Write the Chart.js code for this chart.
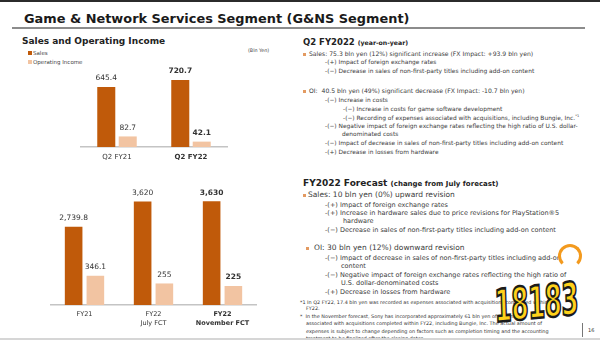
<!DOCTYPE html>
<html>
<head>
<meta charset="utf-8">
<script src="https://cdn.jsdelivr.net/npm/chart.js@4.4.0/dist/chart.umd.min.js"></script>
<style>
  body { margin: 0; background: #fff; }
  #slide { position: relative; width: 600px; height: 340px; overflow: hidden; font-family: 'DejaVu Sans', Verdana, sans-serif; color: #3a3a3a; }
  #slide div { position: absolute; white-space: nowrap; line-height: 1; }
  .topbar { left: 0; top: 0; width: 600px; height: 2px; background: #2b2b2b; }
  .title { left: 24px; top: 12.5px; font-size: 12.9px; font-weight: bold; color: #1a1a1a; }
  .rule { left: 12px; top: 27px; width: 573px; height: 1.5px; background: #8c8c8c; }
  .sub { left: 22px; top: 37px; font-size: 9px; font-weight: bold; color: #222; }
  .leg { font-size: 5.5px; color: #444; }
  .sq { width: 3.5px; height: 3.5px; }
  .h { font-weight: bold; color: #222; }
  .b { width: 3px; height: 3px; background: #e39a61; }
  .s1 { font-size: 5.9px; }
  .s2 { font-size: 6.5px; }
  .s2b { font-size: 7.5px; }
  .fn { font-size: 4.9px; color: #333; }
  canvas { position: absolute; }
  .wm { left: 494px; top: 284px; font-size: 45px; font-weight: 900; font-family: 'DejaVu Sans', sans-serif; color: #ffd21a; -webkit-text-stroke: 2.5px #1b1b1b; letter-spacing: -1px; transform-origin: left top; transform: scaleX(0.55) rotate(-3deg); }
  .sun { left: 558px; top: 244px; width: 24px; height: 24px; border-radius: 50%; border: 3px solid #f39a1e; box-sizing: border-box; border-bottom-color: transparent; }
</style>
</head>
<body>
<div id="slide">
  <div class="topbar"></div>
  <div class="title">Game &amp; Network Services Segment (G&amp;NS Segment)</div>
  <div class="rule"></div>

  <div class="sub">Sales and Operating Income</div>
  <div class="sq" style="left:28px;top:51px;background:#c05a0a"></div>
  <div class="leg" style="left:33px;top:50.5px">Sales</div>
  <div class="sq" style="left:28px;top:60px;background:#f2c4a2"></div>
  <div class="leg" style="left:33px;top:59.5px">Operating Income</div>
  <div class="leg" style="left:248px;top:48.5px;font-size:4.8px">(Bln Yen)</div>

  <canvas id="quarterChart" width="148" height="112" style="left:80px;top:55px"></canvas>
  <canvas id="yearChart" width="207" height="157" style="left:50px;top:180px"></canvas>

  <!-- Q2 FY2022 -->
  <div class="h" style="left:303px;top:38px;font-size:8.5px">Q2 FY2022 <span style="font-size:6.2px">(year-on-year)</span></div>
  <div class="b" style="left:303px;top:52.5px"></div>
  <div class="s1" style="left:309px;top:51px;font-size:6.1px">Sales: 75.3 bln yen (12%) significant increase (FX Impact: +93.9 bln yen)</div>
  <div class="s1" style="left:325px;top:60px">-(+) Impact of foreign exchange rates</div>
  <div class="s1" style="left:325px;top:69px">-(−) Decrease in sales of non-first-party titles including add-on content</div>
  <div class="b" style="left:303px;top:89.5px"></div>
  <div class="s1" style="left:309px;top:88px;font-size:6.1px">OI:&nbsp; 40.5 bln yen (49%) significant decrease (FX Impact: -10.7 bln yen)</div>
  <div class="s1" style="left:325px;top:98px">-(−) Increase in costs</div>
  <div class="s1" style="left:343px;top:107px">-(−) Increase in costs for game software development</div>
  <div class="s1" style="left:343px;top:115px">-(−) Recording of expenses associated with acquisitions, including Bungie, Inc.<sup style="font-size:3.5px">*1</sup></div>
  <div class="s1" style="left:325px;top:124px">-(−) Negative impact of foreign exchange rates reflecting the high ratio of U.S. dollar-</div>
  <div class="s1" style="left:342px;top:132px">denominated costs</div>
  <div class="s1" style="left:325px;top:141px">-(−) Impact of decrease in sales of non-first-party titles including add-on content</div>
  <div class="s1" style="left:325px;top:150px">-(+) Decrease in losses from hardware</div>

  <!-- FY2022 Forecast -->
  <div class="h" style="left:303px;top:179px;font-size:9px">FY2022 Forecast <span style="font-size:7px">(change from July forecast)</span></div>
  <div class="b" style="left:303px;top:193.5px"></div>
  <div class="s2b" style="left:308px;top:191px">Sales: 10 bln yen (0%) upward revision</div>
  <div class="s2" style="left:325px;top:201.5px">-(+) Impact of foreign exchange rates</div>
  <div class="s2" style="left:325px;top:209.5px">-(+) Increase in hardware sales due to price revisions for PlayStation®5</div>
  <div class="s2" style="left:343px;top:217.5px">hardware</div>
  <div class="s2" style="left:325px;top:226.5px">-(−) Decrease in sales of non-first-party titles including add-on content</div>
  <div class="b" style="left:306px;top:246.5px"></div>
  <div class="s2b" style="left:314px;top:244px">OI: 30 bln yen (12%) downward revision</div>
  <div class="s2" style="left:325px;top:254.5px">-(−) Impact of decrease in sales of non-first-party titles including add-on</div>
  <div class="s2" style="left:341px;top:262.5px">content</div>
  <div class="s2" style="left:325px;top:271.5px">-(−) Negative impact of foreign exchange rates reflecting the high ratio of</div>
  <div class="s2" style="left:341px;top:279.5px">U.S. dollar-denominated costs</div>
  <div class="s2" style="left:325px;top:288.5px">-(+) Decrease in losses from hardware</div>

  <div class="fn" style="left:300px;top:299.5px">*1 In Q2 FY22, 17.4 bln yen was recorded as expenses associated with acquisitions completed within</div>
  <div class="fn" style="left:306px;top:305.5px">FY22.</div>
  <div class="fn" style="left:300px;top:313.5px">*&nbsp; In the November forecast, Sony has incorporated approximately 61 bln yen of expenses</div>
  <div class="fn" style="left:306px;top:321px">associated with acquisitions completed within FY22, including Bungie, Inc. The actual amount of</div>
  <div class="fn" style="left:306px;top:328.5px">expenses is subject to change depending on factors such as completion timing and the accounting</div>
  <div class="fn" style="left:306px;top:335.5px">treatment to be finalized after the closing dates.</div>
  <div style="left:582px;top:323px;width:1px;height:14px;background:#777"></div>
  <div class="fn" style="left:588px;top:328px;font-size:5px">16</div>
  <div style="left:0;top:338px;width:600px;height:2px;background:#d6d6d6"></div>

  <div class="sun"></div>
  <div class="wm">18183</div>
</div>

<script>
// Quarterly figures (bln yen)
const quarterLabels = ['Q2 FY21', 'Q2 FY22'];
const quarterSales = [645.4, 720.7];
const quarterIncome = [82.7, 42.1];

// Full-year results and forecasts (bln yen)
const yearLabels = ['FY21', ['FY22', 'July FCT'], ['FY22', 'November FCT']];
const yearSales = [2739.8, 3620, 3630];
const yearIncome = [346.1, 255, 225];

const salesColor = '#c05a0a';
const incomeColor = '#f2c4a2';
const fontFamily = "'DejaVu Sans', Verdana, sans-serif";

function fmt(v) {
    return v.toLocaleString('en-US', { maximumFractionDigits: 1 });
}

// draws the value above each bar
const valueLabels = {
    id: 'valueLabels',
    afterDatasetsDraw(chart, args, opts) {
        const ctx = chart.ctx;
        ctx.save();
        ctx.fillStyle = '#333';
        ctx.textAlign = 'center';
        ctx.textBaseline = 'middle';
        chart.data.datasets.forEach((ds, i) => {
            chart.getDatasetMeta(i).data.forEach((bar, j) => {
                ctx.font = (j === opts.bold ? 'bold ' : '') + opts.size + 'px ' + fontFamily;
                ctx.fillText(fmt(ds.data[j]), bar.x, bar.y - opts.gap);
            });
        });
        ctx.restore();
    }
};

function makeChart(id, labels, sales, income, s) {
    const ctx = document.getElementById(id).getContext('2d');
    return new Chart(ctx, {
        type: 'bar',
        data: {
            labels: labels,
            datasets: [{
                label: 'Sales',
                data: sales,
                backgroundColor: salesColor,
                yAxisID: 'y'
            }, {
                label: 'Operating Income',
                data: income,
                backgroundColor: incomeColor,
                yAxisID: 'y1'
            }]
        },
        options: {
            responsive: false,
            animation: false,
            devicePixelRatio: 1,
            layout: { padding: 0 },
            categoryPercentage: s.catPct,
            barPercentage: s.barPct,
            plugins: {
                legend: { display: false },
                tooltip: { enabled: false },
                valueLabels: { bold: s.bold, size: 7.5, gap: 8.5 }
            },
            scales: {
                x: {
                    grid: { display: false, drawTicks: false },
                    border: { color: '#c4c4c4', width: 1.5 },
                    ticks: {
                        color: '#333',
                        padding: 5,
                        font: (c) => ({
                            family: fontFamily,
                            size: s.tickSize,
                            weight: c.index === s.bold ? 'bold' : 'normal',
                            lineHeight: 1.35
                        })
                    },
                    afterFit: (scale) => { scale.height = s.axisHeight; }
                },
                y: { display: false, min: 0, max: s.salesMax },
                y1: { display: false, min: 0, max: s.incomeMax }
            }
        },
        plugins: [valueLabels]
    });
}

makeChart('quarterChart', quarterLabels, quarterSales, quarterIncome, {
    salesMax: 990, incomeMax: 720, bold: 1, tickSize: 7, axisHeight: 20, catPct: 0.58, barPct: 0.84
});
makeChart('yearChart', yearLabels, yearSales, yearIncome, {
    salesMax: 4370, incomeMax: 1480, bold: 2, tickSize: 6.5, axisHeight: 32, catPct: 0.63, barPct: 0.81
});
</script>
</body>
</html>
